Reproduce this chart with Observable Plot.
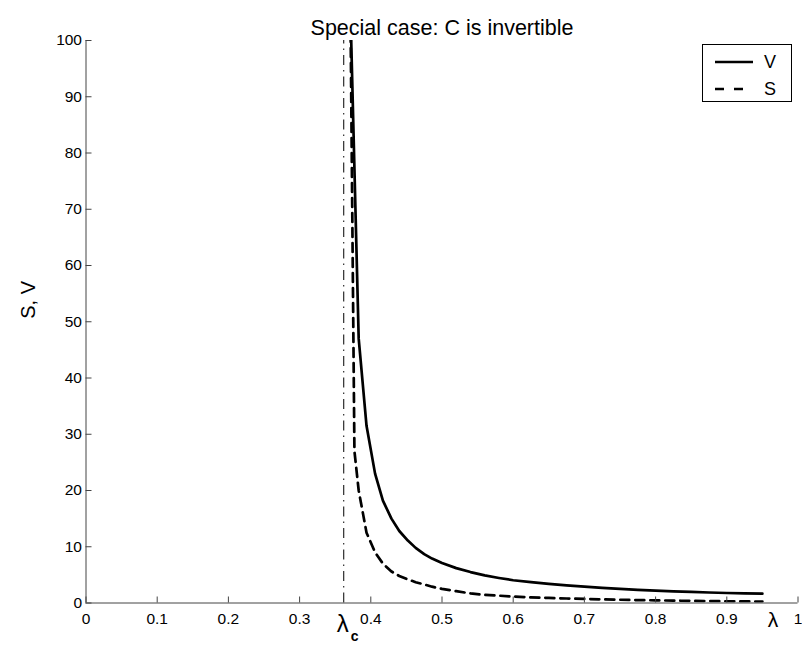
<!DOCTYPE html>
<html>
<head>
<meta charset="utf-8">
<script src="https://cdn.jsdelivr.net/npm/d3@7"></script>
<script src="https://cdn.jsdelivr.net/npm/@observablehq/plot@0.6"></script>
<style>
  html, body { margin: 0; padding: 0; background: #fff; }
  #wrap { position: relative; width: 802px; height: 647px; font-family: "Liberation Sans", Arial, sans-serif; }
  #legend { position: absolute; left: 702px; top: 44px; width: 88px; height: 56px; border: 1px solid #000; background: #fff; }
</style>
</head>
<body>
<div id="wrap">
  <div id="chart"></div>
  <div id="legend"></div>
</div>
<script>
// ---- data ----
const lambdaV = [0.3715, 0.383, 0.394, 0.406, 0.417, 0.429, 0.44, 0.452, 0.463, 0.475, 0.486, 0.5,
                 0.52, 0.54, 0.56, 0.58, 0.6, 0.625, 0.65, 0.675, 0.7, 0.725, 0.75, 0.775, 0.8,
                 0.825, 0.85, 0.875, 0.9, 0.925, 0.95];
const V = [105, 47, 31.5, 23, 18.2, 15, 12.8, 11.1, 9.8, 8.7, 7.9, 7.1,
           6.2, 5.5, 4.9, 4.45, 4.05, 3.7, 3.4, 3.15, 2.9, 2.7, 2.5, 2.35, 2.2,
           2.08, 1.97, 1.87, 1.78, 1.7, 1.65];
const lambdaS = [0.3715, 0.377, 0.383, 0.394, 0.406, 0.417, 0.429, 0.44, 0.452, 0.463, 0.475, 0.486, 0.5,
                 0.52, 0.54, 0.56, 0.58, 0.6, 0.625, 0.65, 0.675, 0.7, 0.725, 0.75, 0.775, 0.8,
                 0.825, 0.85, 0.875, 0.9, 0.925, 0.95];
const S = [104, 27, 20, 12.5, 9, 7, 5.6, 4.8, 4.2, 3.7, 3.3, 2.9, 2.5,
           2.1, 1.7, 1.45, 1.3, 1.15, 1.0, 0.9, 0.8, 0.72, 0.65, 0.58, 0.52, 0.47,
           0.42, 0.38, 0.34, 0.31, 0.28, 0.25];
const lambdaC = 0.362;
const xTicks = [0, 0.1, 0.2, 0.3, 0.4, 0.5, 0.6, 0.7, 0.8, 0.9, 1];
const xTickLabels = ["0", "0.1", "0.2", "0.3", "0.4", "0.5", "0.6", "0.7", "0.8", "0.9", "1"];
const yTicks = [0, 10, 20, 30, 40, 50, 60, 70, 80, 90, 100];
const yTickLabels = ["0", "10", "20", "30", "40", "50", "60", "70", "80", "90", "100"];
const seriesNames = ["V", "S"];
const titleText = "Special case: C is invertible";
const yLabel = "S, V";

const dataV = lambdaV.map((l, i) => ({l, v: V[i]}));
const dataS = lambdaS.map((l, i) => ({l, v: S[i]}));

const axisColor = "#444";
const font = "'Liberation Sans', Arial, sans-serif";
const chart = Plot.plot({
  width: 802,
  height: 647,
  marginLeft: 85.5,
  marginRight: 4.5,
  marginTop: 40,
  marginBottom: 44.5,
  style: {fontFamily: font, color: "#000", background: "#fff"},
  x: {domain: [0, 1]},
  y: {domain: [0, 100]},
  marks: [
    Plot.ruleX([lambdaC], {y1: 0, y2: 100, stroke: "#000", strokeWidth: 1, strokeDasharray: "10,5,1.5,5"}),
    Plot.line(dataV, {x: "l", y: "v", stroke: "#000", strokeWidth: 2.7, clip: true}),
    Plot.line(dataS, {x: "l", y: "v", stroke: "#000", strokeWidth: 2.7, strokeDasharray: "9,6", clip: true}),
    Plot.ruleX([0], {stroke: axisColor, strokeWidth: 1}),
    Plot.ruleY([0], {stroke: axisColor, strokeWidth: 1}),
    // inward ticks
    Plot.axisX(xTicks, {anchor: "bottom", tickSize: 6, dy: -6, stroke: axisColor, tickFormat: () => "", label: null}),
    Plot.axisY(yTicks, {anchor: "left", tickSize: 6, dx: 6, stroke: axisColor, tickFormat: () => "", label: null}),
    // tick labels
    Plot.axisX(xTicks, {anchor: "bottom", tickSize: 0, tickPadding: 10,
      tickFormat: (d) => xTickLabels[xTicks.indexOf(d)], fontSize: 15.5, label: null}),
    Plot.axisY(yTicks, {anchor: "left", tickSize: 0, tickPadding: 4,
      tickFormat: (d) => yTickLabels[yTicks.indexOf(d)], fontSize: 15.5, label: null}),
    Plot.text([titleText], {frameAnchor: "top", dy: -21, fontSize: 21.5, text: d => d}),
    Plot.text([yLabel], {frameAnchor: "left", dx: -57, dy: -3, rotate: -90, fontSize: 20, text: d => d}),
    Plot.text(["λ"], {x: [0.965], frameAnchor: "bottom", dy: 24, fontSize: 21, text: d => d}),
    Plot.text(["λ"], {x: [lambdaC], frameAnchor: "bottom", dx: -1, dy: 29, fontSize: 24, text: d => d}),
    Plot.text(["c"], {x: [lambdaC], frameAnchor: "bottom", dx: 11, dy: 38, fontSize: 14, fontWeight: "bold", text: d => d})
  ]
});
document.getElementById("chart").appendChild(chart);

// legend
const lg = d3.select("#legend").append("svg").attr("width", 88).attr("height", 56);
seriesNames.forEach((name, i) => {
  const y = 17 + i * 27;
  lg.append("line").attr("x1", 12).attr("x2", name === "S" ? 41 : 50).attr("y1", y).attr("y2", y)
    .attr("stroke", "#000").attr("stroke-width", 2.7)
    .attr("stroke-dasharray", name === "S" ? "9,10" : null);
  lg.append("text").attr("x", 61).attr("y", y + 6).attr("font-size", 18)
    .attr("font-family", font).text(name);
});
</script>
</body>
</html>
